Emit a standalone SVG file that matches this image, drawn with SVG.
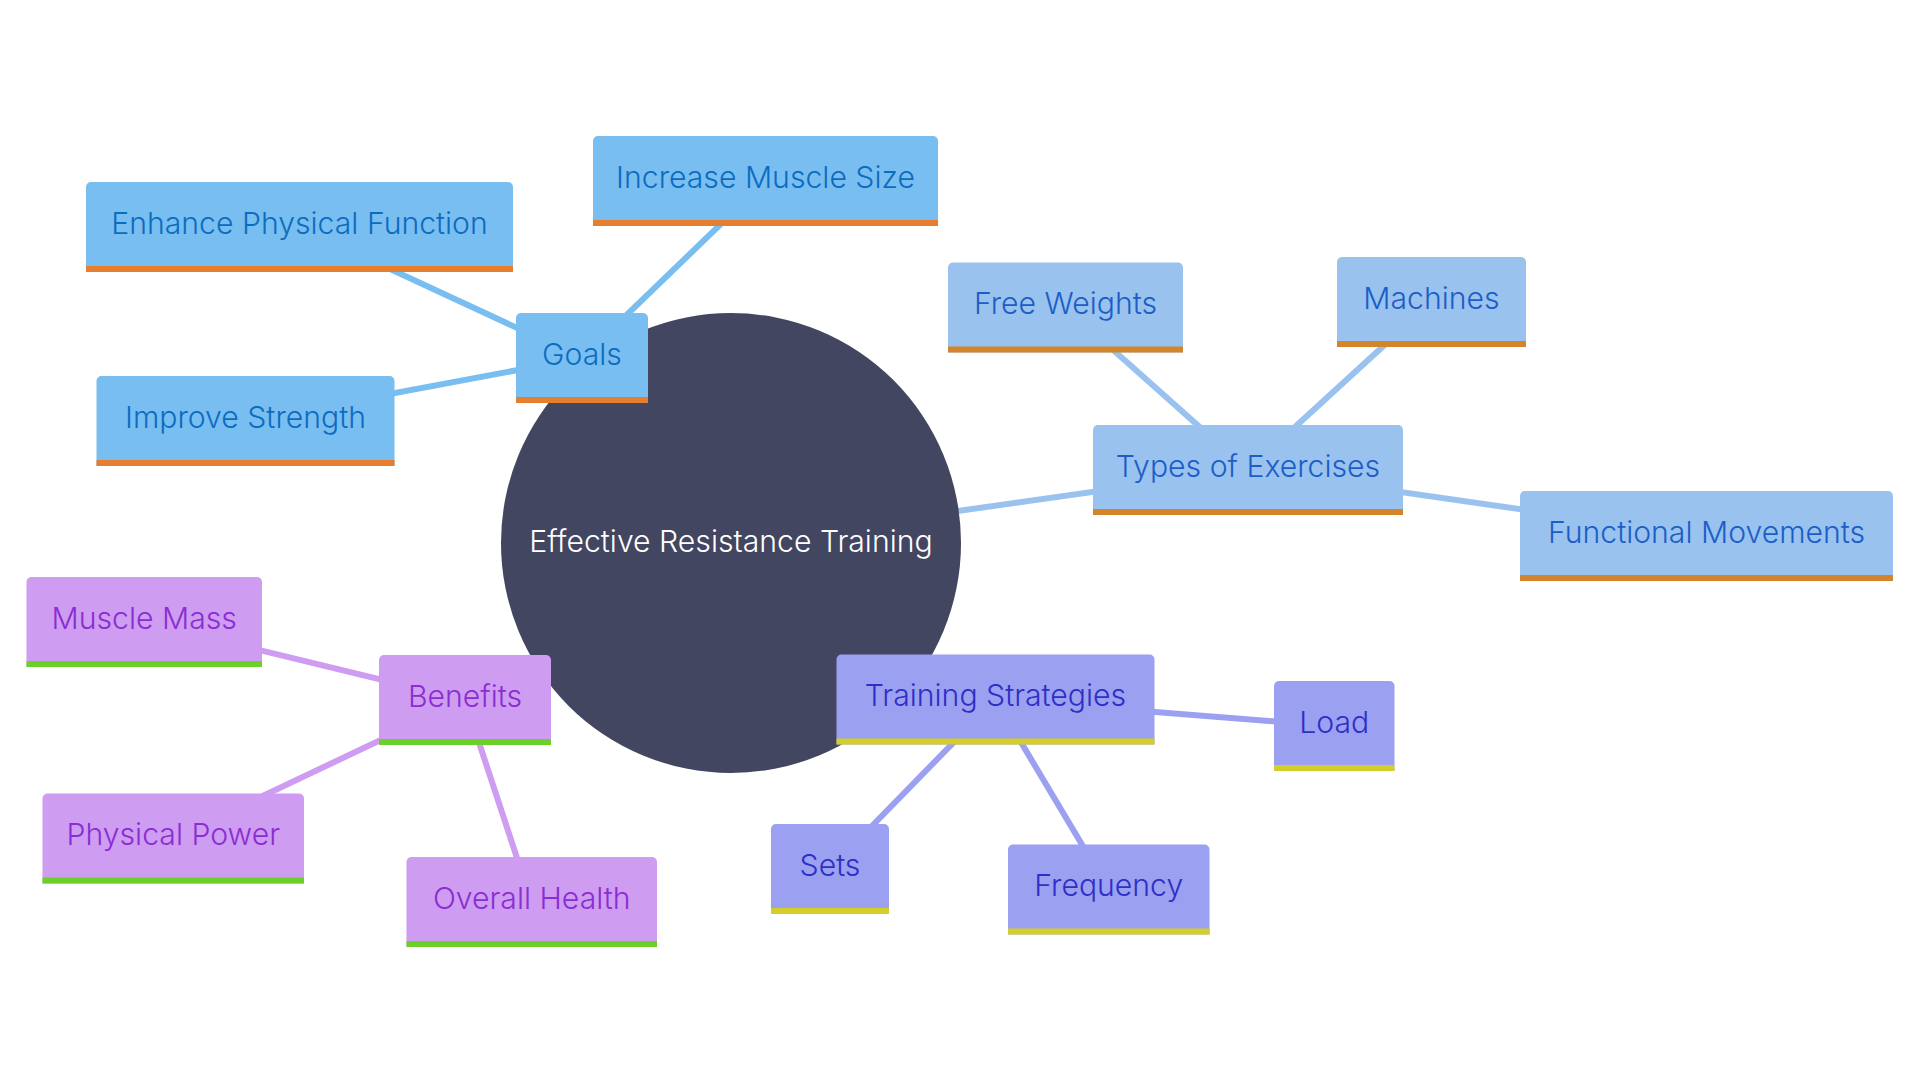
<svg xmlns="http://www.w3.org/2000/svg" width="1920" height="1080" viewBox="0 0 1920 1080">
<style>
  text { font-family: Inter, "Noto Sans", "Liberation Sans", sans-serif; font-size: 30.2px; font-weight: 300; text-anchor: middle; }
  .c { fill: none; stroke-width: 6; stroke-linecap: butt; }
  .g-c { stroke: #79BEF1; }
  .t-c { stroke: #99C2EF; }
  .b-c { stroke: #CE9CF1; }
  .s-c { stroke: #9BA0F1; }
  .g-f { fill: #79BEF1; } .g-bar { fill: #E67E30; } .g-t { fill: #0C6CC0; }
  .t-f { fill: #99C2EF; } .t-bar { fill: #D4842A; } .t-t { fill: #1C5EC6; }
  .b-f { fill: #CE9CF1; } .b-bar { fill: #6BD12A; } .b-t { fill: #8A2DD2; }
  .s-f { fill: #9BA0F1; } .s-bar { fill: #D4CD2A; } .s-t { fill: #2D2FC6; }
  .root-t { fill: #FFFFFF; }
</style>
<rect width="1920" height="1080" fill="#FFFFFF"/>
<g id="connectors">
  <line class="c g-c" x1="731" y1="543" x2="582" y2="358"/>
  <line class="c g-c" x1="582" y1="358" x2="765.5" y2="181"/>
  <line class="c g-c" x1="582" y1="358" x2="299.5" y2="227"/>
  <line class="c g-c" x1="582" y1="358" x2="245.5" y2="421"/>
  <line class="c t-c" x1="731" y1="543" x2="1248" y2="470"/>
  <line class="c t-c" x1="1248" y1="470" x2="1065.5" y2="307.5"/>
  <line class="c t-c" x1="1248" y1="470" x2="1431.5" y2="302"/>
  <line class="c t-c" x1="1248" y1="470" x2="1706.5" y2="536"/>
  <line class="c b-c" x1="731" y1="543" x2="465" y2="700"/>
  <line class="c b-c" x1="465" y1="700" x2="144" y2="622"/>
  <line class="c b-c" x1="465" y1="700" x2="173" y2="838.5"/>
  <line class="c b-c" x1="465" y1="700" x2="531.5" y2="902"/>
  <line class="c s-c" x1="731" y1="543" x2="995.5" y2="699.5"/>
  <line class="c s-c" x1="995.5" y1="699.5" x2="1334" y2="726"/>
  <line class="c s-c" x1="995.5" y1="699.5" x2="830" y2="869"/>
  <line class="c s-c" x1="995.5" y1="699.5" x2="1108.75" y2="889.5"/>
</g>
<g id="root">
  <circle cx="731" cy="543" r="230" fill="#424660"/>
  <text class="root-t" x="731" y="552">Effective Resistance Training</text>
</g>
<g id="goals">
  <path class="g-f" d="M516,403 V318 a5,5 0 0 1 5,-5 H643 a5,5 0 0 1 5,5 V403 Z"/>
  <rect class="g-bar" x="516" y="397" width="132" height="6"/>
  <text class="g-t" x="582" y="364.5">Goals</text>
</g>
<g id="increase-muscle-size">
  <path class="g-f" d="M593,226 V141 a5,5 0 0 1 5,-5 H933 a5,5 0 0 1 5,5 V226 Z"/>
  <rect class="g-bar" x="593" y="220" width="345" height="6"/>
  <text class="g-t" x="765.5" y="187.5">Increase Muscle Size</text>
</g>
<g id="enhance-physical-function">
  <path class="g-f" d="M86,272 V187 a5,5 0 0 1 5,-5 H508 a5,5 0 0 1 5,5 V272 Z"/>
  <rect class="g-bar" x="86" y="266" width="427" height="6"/>
  <text class="g-t" x="299.5" y="233.5">Enhance Physical Function</text>
</g>
<g id="improve-strength">
  <path class="g-f" d="M96.5,466 V381 a5,5 0 0 1 5,-5 H389.5 a5,5 0 0 1 5,5 V466 Z"/>
  <rect class="g-bar" x="96.5" y="460" width="298" height="6"/>
  <text class="g-t" x="245.5" y="427.5">Improve Strength</text>
</g>
<g id="types-of-exercises">
  <path class="t-f" d="M1093,515 V430 a5,5 0 0 1 5,-5 H1398 a5,5 0 0 1 5,5 V515 Z"/>
  <rect class="t-bar" x="1093" y="509" width="310" height="6"/>
  <text class="t-t" x="1248" y="476.5">Types of Exercises</text>
</g>
<g id="free-weights">
  <path class="t-f" d="M948,352.5 V267.5 a5,5 0 0 1 5,-5 H1178 a5,5 0 0 1 5,5 V352.5 Z"/>
  <rect class="t-bar" x="948" y="346.5" width="235" height="6"/>
  <text class="t-t" x="1065.5" y="314">Free Weights</text>
</g>
<g id="machines">
  <path class="t-f" d="M1337,347 V262 a5,5 0 0 1 5,-5 H1521 a5,5 0 0 1 5,5 V347 Z"/>
  <rect class="t-bar" x="1337" y="341" width="189" height="6"/>
  <text class="t-t" x="1431.5" y="308.5">Machines</text>
</g>
<g id="functional-movements">
  <path class="t-f" d="M1520,581 V496 a5,5 0 0 1 5,-5 H1888 a5,5 0 0 1 5,5 V581 Z"/>
  <rect class="t-bar" x="1520" y="575" width="373" height="6"/>
  <text class="t-t" x="1706.5" y="542.5">Functional Movements</text>
</g>
<g id="benefits">
  <path class="b-f" d="M379,745 V660 a5,5 0 0 1 5,-5 H546 a5,5 0 0 1 5,5 V745 Z"/>
  <rect class="b-bar" x="379" y="739" width="172" height="6"/>
  <text class="b-t" x="465" y="706.5">Benefits</text>
</g>
<g id="muscle-mass">
  <path class="b-f" d="M26.5,667 V582 a5,5 0 0 1 5,-5 H257 a5,5 0 0 1 5,5 V667 Z"/>
  <rect class="b-bar" x="26.5" y="661" width="235.5" height="6"/>
  <text class="b-t" x="144.25" y="628.5">Muscle Mass</text>
</g>
<g id="physical-power">
  <path class="b-f" d="M42.5,883.5 V798.5 a5,5 0 0 1 5,-5 H299 a5,5 0 0 1 5,5 V883.5 Z"/>
  <rect class="b-bar" x="42.5" y="877.5" width="261.5" height="6"/>
  <text class="b-t" x="173.25" y="845">Physical Power</text>
</g>
<g id="overall-health">
  <path class="b-f" d="M406.5,947 V862 a5,5 0 0 1 5,-5 H652 a5,5 0 0 1 5,5 V947 Z"/>
  <rect class="b-bar" x="406.5" y="941" width="250.5" height="6"/>
  <text class="b-t" x="531.75" y="908.5">Overall Health</text>
</g>
<g id="training-strategies">
  <path class="s-f" d="M836.5,744.5 V659.5 a5,5 0 0 1 5,-5 H1149.5 a5,5 0 0 1 5,5 V744.5 Z"/>
  <rect class="s-bar" x="836.5" y="738.5" width="318" height="6"/>
  <text class="s-t" x="995.5" y="706">Training Strategies</text>
</g>
<g id="load">
  <path class="s-f" d="M1274,771 V686 a5,5 0 0 1 5,-5 H1389.5 a5,5 0 0 1 5,5 V771 Z"/>
  <rect class="s-bar" x="1274" y="765" width="120.5" height="6"/>
  <text class="s-t" x="1334.25" y="732.5">Load</text>
</g>
<g id="sets">
  <path class="s-f" d="M771,914 V829 a5,5 0 0 1 5,-5 H884 a5,5 0 0 1 5,5 V914 Z"/>
  <rect class="s-bar" x="771" y="908" width="118" height="6"/>
  <text class="s-t" x="830" y="875.5">Sets</text>
</g>
<g id="frequency">
  <path class="s-f" d="M1008,934.5 V849.5 a5,5 0 0 1 5,-5 H1204.5 a5,5 0 0 1 5,5 V934.5 Z"/>
  <rect class="s-bar" x="1008" y="928.5" width="201.5" height="6"/>
  <text class="s-t" x="1108.75" y="896">Frequency</text>
</g>
</svg>
